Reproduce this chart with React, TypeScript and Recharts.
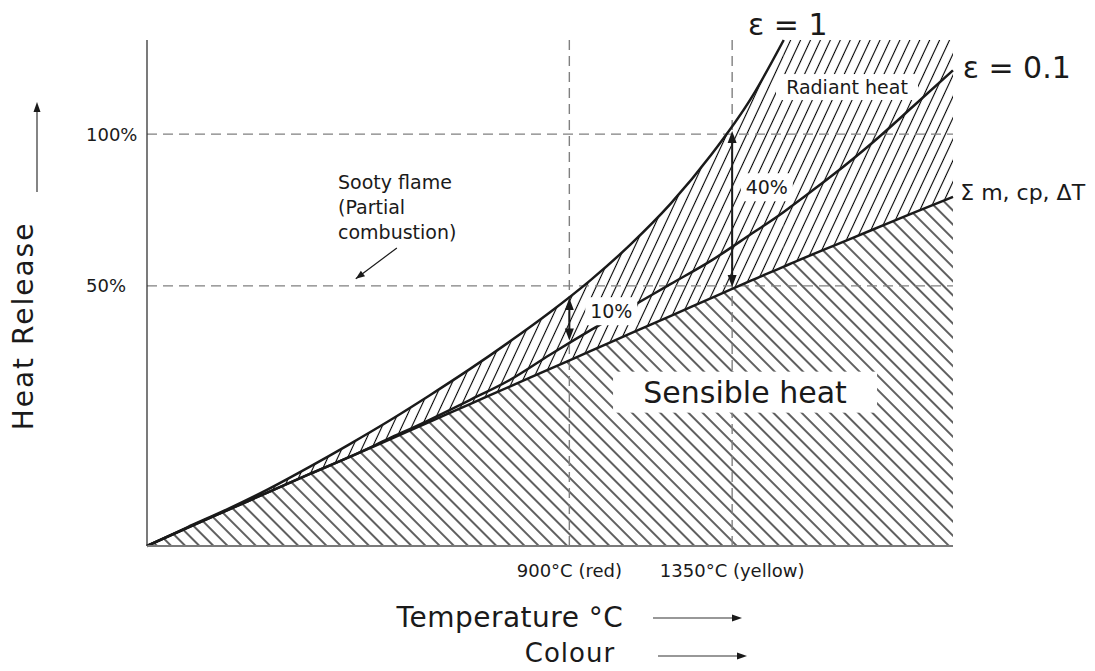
import React from "react";
import { ComposedChart, Area, Line, XAxis, YAxis, ReferenceLine, ReferenceDot } from "recharts";

// temperature axis, 0..100 = left edge .. right edge of the plot
const temps = [0, 5, 10, 15, 20, 25, 30, 35, 40, 45, 50, 55, 60, 65, 70, 75, 79, 80, 85, 90, 95, 100];
const eps1 = [0, 3.7, 7.3, 11.2, 15.5, 20.0, 24.7, 29.7, 34.9, 40.4, 46.2, 52.5, 59.6, 67.7, 77.3, 88.6, 100, null, null, null, null, null];
const eps01 = [0, 3.6, 7.1, 10.6, 14.1, 17.5, 21.2, 24.9, 28.8, 32.8, 37.8, 42.6, 47.2, 51.8, 56.4, 61.7, 66.0, 67.2, 73.2, 79.7, 86.8, 94.0];
const sigma = [0, 3.6, 7.1, 10.6, 14.1, 17.5, 21.0, 24.5, 28.0, 31.5, 35.0, 38.5, 42.0, 45.5, 49.0, 52.5, 55.2, 55.9, 59.2, 62.5, 65.8, 69.0];
const chartTop = 100;

const xTicks = [52.4, 72.6];
const xTickLabels = ["900°C (red)", "1350°C (yellow)"];
const yTicks = [51.4, 81.4];
const yTickLabels = ["50%", "100%"];

// arrows between curves
const arrow10 = [{ x: 52.4, y: 49.0 }, { x: 52.4, y: 40.6 }];
const arrow40 = [{ x: 72.6, y: 82.0 }, { x: 72.6, y: 51.2 }];
const sootyArrow = [{ x: 31.0, y: 58.9 }, { x: 25.9, y: 52.8 }];

const data = temps.map((t, i) => ({
  t,
  eps1: eps1[i],
  eps01: eps01[i],
  sigma: sigma[i],
  band1: eps1[i] != null ? [sigma[i], eps1[i]] : null,
  band2: t >= 79 ? [sigma[i], chartTop] : null,
}));

const FONT = "'DejaVu Sans', sans-serif";
const INK = "#1a1a1a";

function head(x: number, y: number, dx: number, dy: number, len = 12, half = 4.5) {
  const d = Math.hypot(dx, dy) || 1;
  const ux = dx / d, uy = dy / d;
  const bx = x - ux * len, by = y - uy * len;
  return `${x},${y} ${bx - uy * half},${by + ux * half} ${bx + uy * half},${by - ux * half}`;
}

const DoubleArrow = (p: any) => {
  const { x1, y1, x2, y2 } = p;
  return (
    <g>
      <line x1={x1} y1={y1 + 8} x2={x2} y2={y2 - 8} stroke={INK} strokeWidth={2} />
      <polygon points={head(x1, y1, x1 - x2, y1 - y2)} fill={INK} />
      <polygon points={head(x2, y2, x2 - x1, y2 - y1)} fill={INK} />
    </g>
  );
};

const SingleArrow = (p: any) => {
  const { x1, y1, x2, y2 } = p;
  return (
    <g>
      <line x1={x1} y1={y1} x2={x2} y2={y2} stroke={INK} strokeWidth={1.2} />
      <polygon points={head(x2, y2, x2 - x1, y2 - y1, 9, 3.5)} fill={INK} />
    </g>
  );
};

const boxLabel = (text: string, w: number, h: number, size: number) => (p: any) => (
  <g>
    <rect x={p.cx - w / 2} y={p.cy - h / 2} width={w} height={h} fill="#fff" />
    <text x={p.cx} y={p.cy} textAnchor="middle" dominantBaseline="central" fontFamily={FONT} fontSize={size} fill={INK}>
      {text}
    </text>
  </g>
);

const plainLabel = (lines: string[], size: number, anchor: "start" | "middle" = "start", lh = 25) => (p: any) => (
  <text x={p.cx} y={p.cy} textAnchor={anchor} fontFamily={FONT} fontSize={size} fill={INK}>
    {lines.map((l, i) => (
      <tspan key={i} x={p.cx} y={p.cy + i * lh} dominantBaseline="central">
        {l}
      </tspan>
    ))}
  </text>
);

const XTick = (p: any) => {
  const i = xTicks.indexOf(p.payload.value);
  return (
    <text x={p.x} y={p.y + 16} textAnchor="middle" dominantBaseline="central" fontFamily={FONT} fontSize={18} fill={INK}>
      {xTickLabels[i]}
    </text>
  );
};

const YTick = (p: any) => {
  const i = yTicks.indexOf(p.payload.value);
  return (
    <text x={p.x - 53} y={p.y} textAnchor="start" dominantBaseline="central" fontFamily={FONT} fontSize={18} fill={INK}>
      {yTickLabels[i]}
    </text>
  );
};

export default function App() {
  return (
    <div style={{ position: "fixed", left: 0, top: 0, width: 1095, height: 671, background: "#fff" }}>
      <svg width={0} height={0} style={{ position: "absolute" }}>
        <defs>
          <pattern id="hatchFwd" patternUnits="userSpaceOnUse" width={9} height={20} patternTransform="rotate(25)">
            <line x1={4.5} y1={0} x2={4.5} y2={20} stroke="#000" strokeWidth={1.1} />
          </pattern>
          <pattern id="hatchBack" patternUnits="userSpaceOnUse" width={10} height={20} patternTransform="rotate(-45)">
            <line x1={5} y1={0} x2={5} y2={20} stroke="#000" strokeWidth={1.25} />
          </pattern>
        </defs>
      </svg>
      <ComposedChart width={1095} height={671} data={data} margin={{ top: 40, right: 142, bottom: 85, left: 47 }}>
        <XAxis
          type="number"
          dataKey="t"
          domain={[0, 100]}
          ticks={xTicks}
          tick={<XTick />}
          tickLine={false}
          axisLine={{ stroke: "#7a7a7a", strokeWidth: 2 }}
          height={40}
        />
        <YAxis
          type="number"
          domain={[0, chartTop]}
          ticks={yTicks}
          tick={<YTick />}
          tickLine={false}
          axisLine={{ stroke: "#333", strokeWidth: 1.3 }}
          width={100}
        />
        <Area type="monotone" dataKey="sigma" stroke="none" fill="url(#hatchBack)" fillOpacity={1} isAnimationActive={false} />
        <Area type="monotone" dataKey="band1" stroke="none" fill="url(#hatchFwd)" fillOpacity={1} isAnimationActive={false} />
        <Area type="linear" dataKey="band2" stroke="none" fill="url(#hatchFwd)" fillOpacity={1} isAnimationActive={false} />

        <ReferenceLine y={yTicks[0]} stroke="#808080" strokeWidth={1.4} strokeDasharray="10 6" />
        <ReferenceLine y={yTicks[1]} stroke="#808080" strokeWidth={1.4} strokeDasharray="10 6" />
        <ReferenceLine x={xTicks[0]} stroke="#808080" strokeWidth={1.4} strokeDasharray="10 6" />
        <ReferenceLine x={xTicks[1]} stroke="#808080" strokeWidth={1.4} strokeDasharray="10 6" />

        <Line type="monotone" dataKey="sigma" stroke={INK} strokeWidth={2.5} dot={false} isAnimationActive={false} />
        <Line type="monotone" dataKey="eps01" stroke={INK} strokeWidth={2.5} dot={false} isAnimationActive={false} />
        <Line type="monotone" dataKey="eps1" stroke={INK} strokeWidth={2.5} dot={false} isAnimationActive={false} />

        <ReferenceLine segment={arrow10} shape={DoubleArrow} ifOverflow="visible" />
        <ReferenceLine segment={arrow40} shape={DoubleArrow} ifOverflow="visible" />
        <ReferenceLine segment={sootyArrow} shape={SingleArrow} ifOverflow="visible" />

        <ReferenceDot x={57.6} y={46.4} shape={boxLabel("10%", 52, 28, 19)} ifOverflow="visible" />
        <ReferenceDot x={76.9} y={70.9} shape={boxLabel("40%", 52, 28, 19)} ifOverflow="visible" />
        <ReferenceDot x={86.85} y={90.7} shape={boxLabel("Radiant heat", 142, 26, 19)} ifOverflow="visible" />
        <ReferenceDot x={74.2} y={30.4} shape={boxLabel("Sensible heat", 264, 41, 30)} ifOverflow="visible" />
        <ReferenceDot x={23.7} y={71.9} shape={plainLabel(["Sooty flame", "(Partial", "combustion)"], 19)} ifOverflow="visible" />
        <ReferenceDot x={79.5} y={103} shape={plainLabel(["ε = 1"], 30, "middle")} ifOverflow="visible" />
        <ReferenceDot x={101.2} y={94.5} shape={plainLabel(["ε = 0.1"], 30)} ifOverflow="visible" />
        <ReferenceDot x={100.9} y={69.8} shape={plainLabel(["Σ m, cp, ΔT"], 22)} ifOverflow="visible" />
      </ComposedChart>
      <svg width={1095} height={671} style={{ position: "absolute", left: 0, top: 0, pointerEvents: "none" }}>
        <text x={23} y={326} transform="rotate(-90 23 326)" textAnchor="middle" dominantBaseline="central" fontFamily={FONT} fontSize={28} letterSpacing={2} fill={INK}>
          Heat Release
        </text>
        <line x1={37} y1={192} x2={37} y2={110} stroke="#333" strokeWidth={1.2} />
        <polygon points={head(37, 102, 0, -1, 10, 3.5)} fill={INK} />
        <text x={510} y={617} textAnchor="middle" dominantBaseline="central" fontFamily={FONT} fontSize={28} letterSpacing={0.5} fill={INK}>
          Temperature °C
        </text>
        <line x1={653} y1={618} x2={734} y2={618} stroke="#333" strokeWidth={1.2} />
        <polygon points={head(742, 618, 1, 0, 10, 3.5)} fill={INK} />
        <text x={570} y={653} textAnchor="middle" dominantBaseline="central" fontFamily={FONT} fontSize={26} letterSpacing={1} fill={INK}>
          Colour
        </text>
        <line x1={658} y1={656} x2={739} y2={656} stroke="#333" strokeWidth={1.2} />
        <polygon points={head(747, 656, 1, 0, 10, 3.5)} fill={INK} />
      </svg>
    </div>
  );
}
